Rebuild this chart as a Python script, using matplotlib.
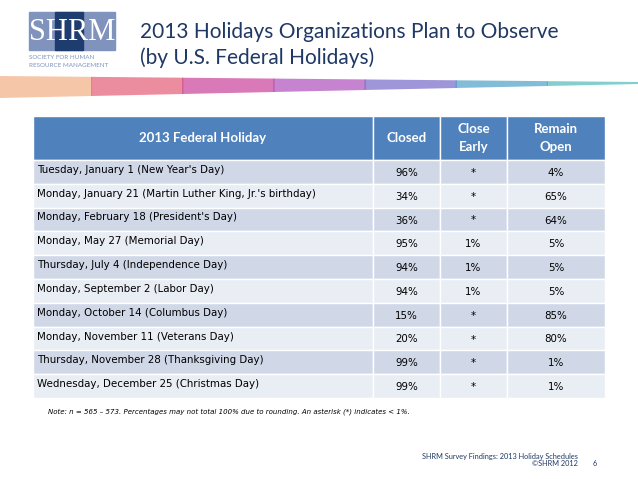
import matplotlib
matplotlib.use("Agg")
import matplotlib.pyplot as plt
from matplotlib.patches import Rectangle, Polygon

holidays = ["Tuesday, January 1 (New Year's Day)",
            "Monday, January 21 (Martin Luther King, Jr.'s birthday)",
            "Monday, February 18 (President's Day)",
            "Monday, May 27 (Memorial Day)",
            "Thursday, July 4 (Independence Day)",
            "Monday, September 2 (Labor Day)",
            "Monday, October 14 (Columbus Day)",
            "Monday, November 11 (Veterans Day)",
            "Thursday, November 28 (Thanksgiving Day)",
            "Wednesday, December 25 (Christmas Day)"]
closed = ["96%", "34%", "36%", "95%", "94%", "94%", "15%", "20%", "99%", "99%"]
close_early = ["*", "*", "*", "1%", "1%", "1%", "*", "*", "*", "*"]
remain_open = ["4%", "65%", "64%", "5%", "5%", "5%", "85%", "80%", "1%", "1%"]
headers = ["2013 Federal Holiday", "Closed", "Close\nEarly", "Remain\nOpen"]

W, H = 638, 479
fig = plt.figure(figsize=(W/100, H/100), dpi=100)
ax = fig.add_axes([0, 0, 1, 1])
ax.set_xlim(0, W); ax.set_ylim(H, 0); ax.axis("off")
font = "Lato"
body = "DejaVu Sans"

# logo
ax.add_patch(Rectangle((29, 12), 86, 38, color="#7f93bd"))
ax.add_patch(Rectangle((55, 12), 28, 38, color="#1f3c6e"))
ax.text(72, 32, "SHRM", ha="center", va="center", color="white", fontsize=22, family="Liberation Serif")
ax.text(29, 57, "SOCIETY FOR HUMAN", fontsize=4.5, color="#7f93bd", va="center", family=font)
ax.text(29, 65, "RESOURCE MANAGEMENT", fontsize=4.5, color="#7f93bd", va="center", family=font)
# title
ax.text(140, 32, "2013 Holidays Organizations Plan to Observe", fontsize=15, color="#1f3864", va="center", family=font)
ax.text(140, 58, "(by U.S. Federal Holidays)", fontsize=15, color="#1f3864", va="center", family=font)
# swoosh band
cols = ["#f0a070", "#e04060", "#c0208a", "#a030b0", "#6050c0", "#3090c0", "#30b0b0"]
n = len(cols)
for i, c in enumerate(cols):
    x0 = i * W / n; x1 = (i + 1) * W / n
    ax.add_patch(Polygon([(x0, 98 - 14*i/n), (x1 + 1, 98 - 14*(i+1)/n), (x1 + 1, 76 + 6*(i+1)/n), (x0, 76 + 6*i/n)],
                         closed=True, color=c, alpha=0.6, lw=0))

# table
xs = [33, 373, 440, 507, 605]
hy0, hy1 = 116, 160
rh = 23.8
for j in range(4):
    ax.add_patch(Rectangle((xs[j], hy0), xs[j+1]-xs[j], hy1-hy0, facecolor="#4f81bd", edgecolor="white", lw=1))
    cx = (xs[j]+xs[j+1])/2
    ax.text(cx, (hy0+hy1)/2, headers[j], ha="center", va="center", color="white",
            fontsize=9.5, fontweight="bold", family=font, linespacing=1.6)
for i, h in enumerate(holidays):
    y0 = hy1 + i*rh
    fc = "#d0d8e8" if i % 2 == 0 else "#e9edf4"
    for j in range(4):
        ax.add_patch(Rectangle((xs[j], y0), xs[j+1]-xs[j], rh, facecolor=fc, edgecolor="white", lw=1))
    yc = y0 + rh/2
    ax.text(37, yc - 2, h, ha="left", va="center", fontsize=7.4, family=body, color="black")
    for j, v in zip(range(1, 4), (closed[i], close_early[i], remain_open[i])):
        ax.text((xs[j]+xs[j+1])/2, yc + 1, v, ha="center", va="center", fontsize=7.4, family=body)

ax.text(48, 412, "Note: n = 565 – 573. Percentages may not total 100% due to rounding. An asterisk (*) indicates < 1%.",
        fontsize=5.0, style="italic", family=body, va="center")
ax.text(578, 456, "SHRM Survey Findings: 2013 Holiday Schedules", fontsize=5.3, color="#1f3864", ha="right", va="center", family=font)
ax.text(578, 463, "©SHRM 2012", fontsize=5.3, color="#1f3864", ha="right", va="center", family=font)
ax.text(595, 463, "6", fontsize=5.3, color="#1f3864", ha="center", va="center", family=font)

fig.savefig("out.png", dpi=100)
